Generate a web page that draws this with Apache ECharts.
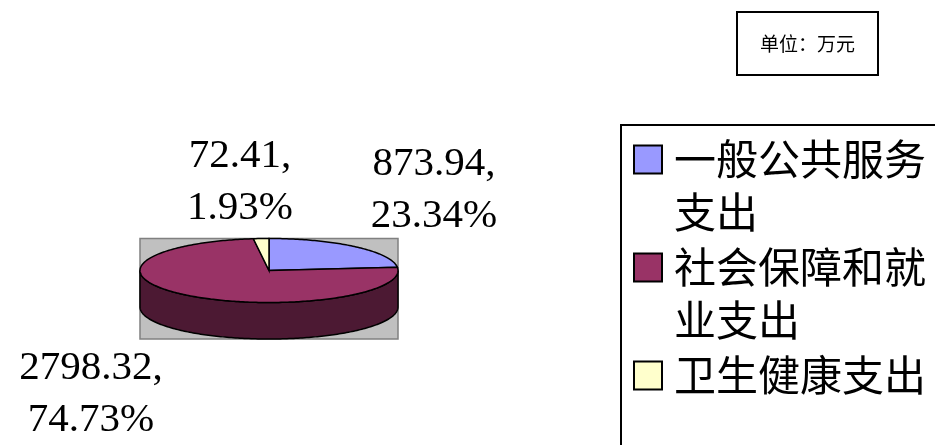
<!DOCTYPE html>
<html>
<head>
<meta charset="utf-8">
<script src="https://cdn.jsdelivr.net/npm/echarts@6/dist/echarts.min.js"></script>
<style>
html, body { margin: 0; padding: 0; background: #fff; }
#main { width: 935px; height: 445px; }
</style>
</head>
<body>
<div id="main"></div>
<script>
// 数据
var categories = ['一般公共服务支出', '社会保障和就业支出', '卫生健康支出'];
var legendLines = [['一般公共服务', '支出'], ['社会保障和就', '业支出'], ['卫生健康支出']];
var values = [873.94, 2798.32, 72.41];
var unitText = '单位：万元';

var colors = ['#9999FF', '#993366', '#FFFFCC'];
var sideColors = ['#4C4C80', '#4C1933', '#808066'];

// 饼图几何（像素）
var cx = 269, cy = 270.5, rx = 129, ry = 32, depth = 36.5;
// 标签中心位置
var labelPos = [[434, 190], [91, 394], [240, 182]];

var total = 0;
for (var i = 0; i < values.length; i++) total += values[i];
var startAngles = [];
var acc = 0;
for (var i = 0; i < values.length; i++) {
    startAngles.push(acc / total * 360);
    acc += values[i];
}

function pt(deg, dy) {
    var r = deg * Math.PI / 180;
    return [cx + rx * Math.sin(r), cy - ry * Math.cos(r) + (dy || 0)];
}

function arc(a, b, dy) {
    var pts = [];
    var n = Math.max(2, Math.ceil(Math.abs(b - a)));
    for (var k = 0; k <= n; k++) {
        pts.push(pt(a + (b - a) * k / n, dy));
    }
    return pts;
}

function makeRender(idx) {
    return function (params, api) {
        var v = api.value(0);
        var a = startAngles[idx];
        var b = a + v / total * 360;
        var children = [];
        // 侧面
        var lo = Math.max(a, 90), hi = Math.min(b, 270);
        if (hi > lo) {
            var side = arc(lo, hi, 0).concat(arc(hi, lo, depth));
            children.push({
                type: 'polygon',
                shape: { points: side },
                style: { fill: sideColors[idx], stroke: '#000', lineWidth: 1.5 }
            });
        }
        // 顶面
        var top = [[cx, cy]].concat(arc(a, b, 0));
        children.push({
            type: 'polygon',
            shape: { points: top },
            style: { fill: api.visual('color'), stroke: '#000', lineWidth: 1.5 }
        });
        // 标签
        var pct = v / total * 100;
        children.push({
            type: 'text',
            x: labelPos[idx][0],
            y: labelPos[idx][1],
            style: {
                text: v.toFixed(2) + ',\n' + pct.toFixed(2) + '%',
                fontSize: 41,
                fontFamily: 'Liberation Serif',
                fill: '#000',
                align: 'center',
                verticalAlign: 'middle',
                lineHeight: 52
            }
        });
        return { type: 'group', children: children };
    };
}

var myChart = echarts.init(document.getElementById('main'));

var series = [];
for (var i = 0; i < categories.length; i++) {
    series.push({
        name: categories[i],
        type: 'custom',
        coordinateSystem: 'none',
        itemStyle: { color: colors[i] },
        renderItem: makeRender(i),
        data: [[values[i]]],
        animation: false,
        silent: true
    });
}

var option = {
    backgroundColor: '#fff',
    animation: false,
    title: {
        text: unitText,
        left: 737,
        top: 12,
        padding: [22, 23],
        borderColor: '#000',
        borderWidth: 2,
        textStyle: {
            fontSize: 19,
            fontWeight: 'normal',
            color: '#000',
            fontFamily: 'Noto Sans CJK SC'
        }
    },
    legend: {
        orient: 'vertical',
        left: 633,
        top: 80,
        height: 800,
        padding: 0,
        itemGap: -51,
        itemWidth: 28,
        itemHeight: 28,
        icon: 'rect',
        selectedMode: false,
        itemStyle: { borderColor: '#000', borderWidth: 2 },
        // 首行与图标对齐：前后补空行使首行居中于图标
        formatter: function (name) {
            var lines = legendLines[categories.indexOf(name)];
            var pad = lines.length - 1 || 1;
            var before = new Array(pad + 1).join('\n');
            var after = lines.length === 1 ? '\n' : '';
            return before + lines.join('\n') + after;
        },
        textStyle: {
            fontSize: 42,
            lineHeight: 53,
            padding: [0, 0, 0, 7],
            color: '#000',
            fontFamily: 'Noto Sans CJK SC'
        },
        data: categories
    },
    graphic: [{
        type: 'rect',
        z: -10,
        shape: { x: cx - rx, y: cy - ry, width: rx * 2, height: ry * 2 + depth },
        style: { fill: '#C0C0C0', stroke: '#808080', lineWidth: 1.5 }
    }, {
        type: 'rect',
        z: -10,
        shape: { x: 621, y: 125, width: 400, height: 400 },
        style: { fill: 'none', stroke: '#000', lineWidth: 2 }
    }],
    series: series
};

myChart.setOption(option);
</script>
</body>
</html>
